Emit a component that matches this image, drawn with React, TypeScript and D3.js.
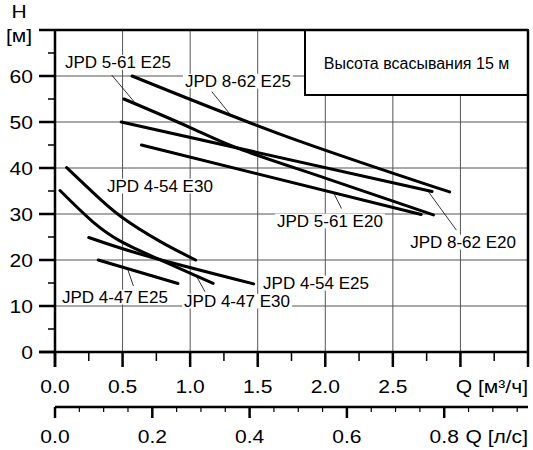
import React, { useEffect, useRef } from 'react';
import * as d3 from 'd3';

const W = 533;
const HH = 450;

// axis definitions
const qDomain = [0, 3.5];
const hDomain = [0, 70];
const qMajor = [0, 0.5, 1, 1.5, 2, 2.5, 3, 3.5];
const qMinor = [0.25, 0.75, 1.25, 1.75, 2.25, 2.75, 3.25];
const qLabels = ['0.0', '0.5', '1.0', '1.5', '2.0', '2.5'];
const hMajor = [0, 10, 20, 30, 40, 50, 60, 70];
const hMinor = [5, 15, 25, 35, 45, 55, 65];
const hLabels = ['0', '10', '20', '30', '40', '50', '60'];
const lsMajor = [0, 0.2, 0.4, 0.6, 0.8];
const lsMinor = [0.05, 0.1, 0.15, 0.25, 0.3, 0.35, 0.45, 0.5, 0.55, 0.65, 0.7, 0.75, 0.85, 0.9, 0.95];
const lsLabels = ['0.0', '0.2', '0.4', '0.6', '0.8'];
const qGrid = [0.5, 1, 1.5, 2, 2.5, 3];
const hGrid = [10, 20, 30, 40, 50, 60];

// curve data (Q m3/h, H m)
const c862E25Q = [0.57, 1.7, 2.92];
const c862E25H = [60, 47.0, 34.8];
const c862E20Q = [0.49, 2.79];
const c862E20H = [50, 34.9];
const c561E25Q = [0.51, 1.0, 1.37, 2.0, 2.8];
const c561E25H = [55, 48.8, 44.1, 37.8, 29.8];
const c561E20Q = [0.64, 2.71];
const c561E20H = [45, 29.9];
const c454E30Q = [0.086, 0.28, 0.49, 0.78, 1.04];
const c454E30H = [40.1, 34.7, 29.4, 24.0, 20.0];
const c447E30Q = [0.037, 0.28, 0.49, 0.75, 1.17];
const c447E30H = [35.1, 28.3, 24.0, 20.4, 14.9];
const c454E25Q = [0.25, 0.7, 1.47];
const c454E25H = [24.9, 20.7, 14.8];
const c447E25Q = [0.32, 0.91];
const c447E25H = [20, 14.9];

const curveQ = [c862E25Q, c862E20Q, c561E25Q, c561E20Q, c454E30Q, c447E30Q, c454E25Q, c447E25Q];
const curveH = [c862E25H, c862E20H, c561E25H, c561E20H, c454E30H, c447E30H, c454E25H, c447E25H];

// labels
const labelText = ['JPD 5-61 E25', 'JPD 8-62 E25', 'JPD 4-54 E30', 'JPD 5-61 E20', 'JPD 8-62 E20', 'JPD 4-54 E25', 'JPD 4-47 E25', 'JPD 4-47 E30'];
const labelQ = [0.074, 0.962, 0.385, 1.643, 2.628, 1.54, 0.052, 0.955];
const labelH = [61.7, 57.6, 34.8, 27.2, 22.6, 13.7, 10.65, 9.78];

// leaders
const leaderQ1 = [0.42, 1.16, 2.12, 2.97, 0.58, 1.11];
const leaderH1 = [60.2, 56.6, 31.2, 26.5, 14.35, 13.1];
const leaderQ2 = [0.6, 1.295, 2.06, 2.763, 0.54, 1.05];
const leaderH2 = [53.9, 51.7, 34.7, 34.85, 17.8, 16.3];

const boxText = 'Высота всасывания 15 м';

export default function App() {
  const ref = useRef<SVGSVGElement>(null);
  useEffect(() => {
    const svg = d3.select(ref.current);
    svg.selectAll('*').remove();
    const x = d3.scaleLinear().domain(qDomain).range([55, 528]);
    const y = d3.scaleLinear().domain(hDomain).range([352, 30]);
    const xl = d3.scaleLinear().domain([0, 3.5 / 3.6]).range([55, 528]);
    const font = 'Liberation Sans, Arial, sans-serif';
    const gridC = '#555';
    const SX = 1.17;

    const g = svg.append('g');
    const wideText = (px: number, py: number, t: string, size: number, anchor: string) =>
      g.append('text').attr('transform', `translate(${px},${py}) scale(${SX},1)`)
        .attr('text-anchor', anchor).attr('font-family', font).attr('font-size', size).text(t);

    // grid
    qGrid.forEach((q) => {
      g.append('line').attr('x1', x(q)).attr('x2', x(q)).attr('y1', y(70)).attr('y2', y(0))
        .attr('stroke', gridC).attr('stroke-width', 1);
    });
    hGrid.forEach((h) => {
      g.append('line').attr('x1', x(0)).attr('x2', x(3.5)).attr('y1', y(h)).attr('y2', y(h))
        .attr('stroke', gridC).attr('stroke-width', 1);
    });

    // box
    g.append('rect').attr('x', 305).attr('y', y(70)).attr('width', x(3.5) - 305).attr('height', 65)
      .attr('fill', 'white').attr('stroke', 'black').attr('stroke-width', 2);
    g.append('text').attr('x', (305 + x(3.5)) / 2).attr('y', 69).attr('text-anchor', 'middle')
      .attr('font-family', font).attr('font-size', 16).text(boxText);

    // curves
    const line = d3.line<[number, number]>().x((d) => x(d[0])).y((d) => y(d[1])).curve(d3.curveNatural);
    curveQ.forEach((qs, i) => {
      const pts = qs.map((q, j) => [q, curveH[i][j]] as [number, number]);
      g.append('path').attr('d', line(pts)).attr('fill', 'none').attr('stroke', 'black')
        .attr('stroke-width', 3).attr('stroke-linecap', 'round');
    });

    // labels with white bg
    const fsL = 17;
    labelText.forEach((t, i) => {
      const lg = g.append('g');
      const tx = lg.append('text').attr('x', x(labelQ[i])).attr('y', y(labelH[i]))
        .attr('font-family', font).attr('font-size', fsL).text(t);
      const bb = (tx.node() as SVGTextElement).getBBox();
      lg.insert('rect', 'text').attr('x', bb.x - 2).attr('y', y(labelH[i]) - fsL * 0.78)
        .attr('width', bb.width + 4).attr('height', fsL * 0.78 + 1.5).attr('fill', 'white');
    });

    // leaders
    leaderQ1.forEach((q, i) => {
      g.append('line').attr('x1', x(q)).attr('y1', y(leaderH1[i])).attr('x2', x(leaderQ2[i])).attr('y2', y(leaderH2[i]))
        .attr('stroke', 'black').attr('stroke-width', 0.8);
    });

    const axW = 2.5;
    // y axis
    g.append('line').attr('x1', x(0)).attr('x2', x(0)).attr('y1', y(70)).attr('y2', y(0) + 15)
      .attr('stroke', 'black').attr('stroke-width', axW);
    hMajor.forEach((h) => {
      g.append('line').attr('x1', 39).attr('x2', x(0)).attr('y1', y(h)).attr('y2', y(h))
        .attr('stroke', 'black').attr('stroke-width', axW);
    });
    hMinor.forEach((h) => {
      g.append('line').attr('x1', 48).attr('x2', x(0)).attr('y1', y(h)).attr('y2', y(h))
        .attr('stroke', 'black').attr('stroke-width', 1.5);
    });
    hLabels.forEach((t, i) => {
      wideText(33, y(hMajor[i]) + 6.5, t, 18, 'end');
    });
    // top and right border
    g.append('line').attr('x1', x(0)).attr('x2', x(3.5)).attr('y1', y(70)).attr('y2', y(70))
      .attr('stroke', 'black').attr('stroke-width', axW);
    g.append('line').attr('x1', x(3.5)).attr('x2', x(3.5)).attr('y1', y(70)).attr('y2', y(0))
      .attr('stroke', 'black').attr('stroke-width', axW);
    // bottom axis
    g.append('line').attr('x1', 39).attr('x2', x(3.5)).attr('y1', y(0)).attr('y2', y(0))
      .attr('stroke', 'black').attr('stroke-width', axW);
    qMajor.forEach((q) => {
      g.append('line').attr('x1', x(q)).attr('x2', x(q)).attr('y1', y(0)).attr('y2', y(0) + 15)
        .attr('stroke', 'black').attr('stroke-width', axW);
    });
    qMinor.forEach((q) => {
      g.append('line').attr('x1', x(q)).attr('x2', x(q)).attr('y1', y(0)).attr('y2', y(0) + 9)
        .attr('stroke', 'black').attr('stroke-width', 1.5);
    });
    qLabels.forEach((t, i) => {
      wideText(x(qMajor[i]), 393, t, 18, 'middle');
    });
    wideText(x(3.5), 393, 'Q [м³/ч]', 18, 'end');

    // second axis l/s
    const y2 = 407;
    g.append('line').attr('x1', xl(0)).attr('x2', x(3.5)).attr('y1', y2).attr('y2', y2)
      .attr('stroke', 'black').attr('stroke-width', axW);
    lsMajor.forEach((v) => {
      g.append('line').attr('x1', xl(v)).attr('x2', xl(v)).attr('y1', y2).attr('y2', y2 + 11)
        .attr('stroke', 'black').attr('stroke-width', axW);
    });
    lsMinor.forEach((v) => {
      g.append('line').attr('x1', xl(v)).attr('x2', xl(v)).attr('y1', y2).attr('y2', y2 + 5)
        .attr('stroke', 'black').attr('stroke-width', 1.2);
    });
    lsLabels.forEach((t, i) => {
      wideText(xl(lsMajor[i]), 443, t, 18, 'middle');
    });
    wideText(x(3.5), 443, 'Q [л/с]', 18, 'end');

    // H label
    wideText(19, 18, 'H', 18, 'middle');
    wideText(19, 42, '[м]', 18, 'middle');
  }, []);
  return (
    <svg ref={ref} width={W} height={HH} style={{ position: 'absolute', left: 0, top: 0, background: 'white' }} />
  );
}
